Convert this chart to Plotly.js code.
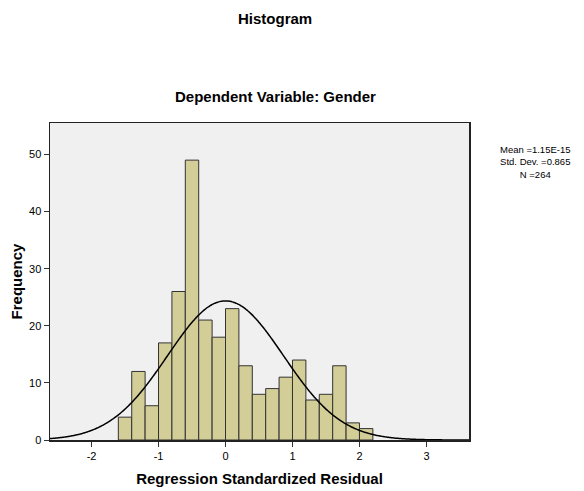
<!DOCTYPE html>
<html>
<head>
<meta charset="utf-8">
<script src="https://cdn.plot.ly/plotly-3.0.1.min.js"></script>
<style>html,body{margin:0;padding:0;background:#fff;}#chart{width:584px;height:491px;}</style>
</head>
<body>
<div id="chart"></div>
<script>
// Bin centres (bin width 0.2) and frequencies
var binCenters = [-1.5, -1.3, -1.1, -0.9, -0.7, -0.5, -0.3, -0.1, 0.1, 0.3, 0.5, 0.7, 0.9, 1.1, 1.3, 1.5, 1.7, 1.9, 2.1];
var frequencies = [4, 12, 6, 17, 26, 49, 21, 18, 23, 13, 8, 9, 11, 14, 7, 8, 13, 3, 2];
var binWidth = 0.2;
// Summary statistics shown on the chart
var meanVal = 1.15e-15;
var sdVal = 0.865;
var nVal = 264;
var xTicks = [-2, -1, 0, 1, 2, 3];
var yTicks = [0, 10, 20, 30, 40, 50];

// Normal curve scaled to counts (as drawn by SPSS from mean/sd/N)
var curveX = [], curveY = [];
var xmin = -2.62, xmax = 3.635;
for (var i = 0; i <= 400; i++) {
  var x = xmin + (xmax - xmin) * i / 400;
  var z = (x - meanVal) / sdVal;
  curveX.push(x);
  curveY.push(nVal * binWidth * Math.exp(-0.5 * z * z) / (sdVal * Math.sqrt(2 * Math.PI)));
}

var font = "Arial, 'Liberation Sans', sans-serif";
var data = [
  {
    type: 'bar', x: binCenters, y: frequencies, width: binWidth,
    marker: {color: '#d3ce97', line: {color: '#333333', width: 1}},
    hoverinfo: 'x+y'
  },
  {
    type: 'scatter', mode: 'lines', x: curveX, y: curveY,
    line: {color: '#000', width: 1.5, shape: 'spline'}, hoverinfo: 'skip'
  }
];

var layout = {
  width: 584, height: 491,
  margin: {l: 50, r: 115, t: 123, b: 51},
  paper_bgcolor: '#ffffff', plot_bgcolor: '#f0f0f0',
  showlegend: false, bargap: 0,
  font: {family: font, size: 11, color: '#000000'},
  xaxis: {
    range: [xmin, xmax], tickvals: xTicks, ticktext: xTicks.map(String),
    showgrid: false, zeroline: false, showline: true, mirror: true,
    linecolor: '#222', linewidth: 1.5, ticks: 'outside', ticklen: 5, tickcolor: '#333',
    tickfont: {size: 11, family: font, color: '#000000'},
    title: {text: '<b>Regression Standardized Residual</b>', font: {size: 15, family: font, color: '#000000'}, standoff: 13}
  },
  yaxis: {
    range: [0, 55.5], tickvals: yTicks, ticktext: yTicks.map(String),
    showgrid: false, zeroline: false, showline: true, mirror: true,
    linecolor: '#222', linewidth: 1.5, ticks: 'outside', ticklen: 5, tickcolor: '#333',
    tickfont: {size: 11, family: font, color: '#000000'},
    title: {text: '<b>Frequency</b>', font: {size: 15, family: font, color: '#000000'}, standoff: 3}
  },
  annotations: [
    {text: '<b>Histogram</b>', xref: 'paper', yref: 'paper', x: 0.537, y: 1, yshift: 105,
     xanchor: 'center', yanchor: 'middle', showarrow: false, font: {size: 15, family: font, color: '#000000'}},
    {text: '<b>Dependent Variable: Gender</b>', xref: 'paper', yref: 'paper', x: 0.537, y: 1, yshift: 27,
     xanchor: 'center', yanchor: 'middle', showarrow: false, font: {size: 15, family: font, color: '#000000'}},
    {text: 'Mean =1.15E-15<br>Std. Dev. =0.865<br>N =264', xref: 'paper', yref: 'paper',
     x: 1, xshift: 66, y: 1, yshift: -39, xanchor: 'center', yanchor: 'middle', align: 'center',
     showarrow: false, font: {size: 9.5, family: font, color: '#000000'}}
  ]
};

Plotly.newPlot('chart', data, layout, {displayModeBar: false, staticPlot: true});
</script>
</body>
</html>
